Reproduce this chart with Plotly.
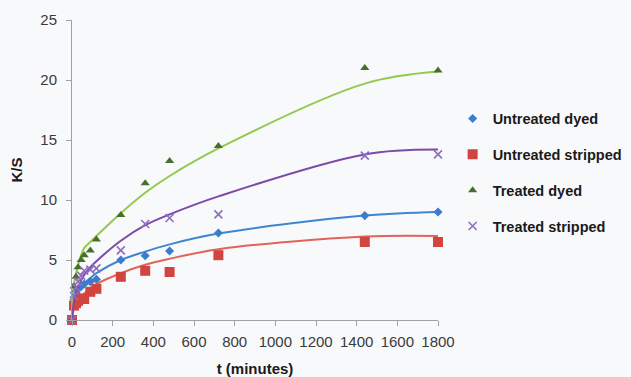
import plotly.graph_objects as go

# Sampling times (minutes)
t = [0, 10, 20, 30, 45, 60, 90, 120, 240, 360, 480, 720, 1440, 1800]

# Measured K/S values
untreated_dyed = [0, 1.9, 2.3, 2.6, 2.8, 3.0, 3.2, 3.4, 5.0, 5.35, 5.75, 7.25, 8.7, 9.0]
untreated_stripped = [0, 1.2, 1.4, 1.6, 1.8, 1.75, 2.35, 2.6, 3.6, 4.1, 4.0, 5.4, 6.5, 6.5]
treated_dyed = [0, 2.8, 3.6, 4.4, 5.0, 5.4, 5.8, 6.7, 8.75, 11.4, 13.25, 14.5, 21.0, 20.8]
treated_stripped = [0, 2.0, 2.7, 3.2, 3.7, 4.1, 4.2, 4.3, 5.8, 8.0, 8.5, 8.8, 13.7, 13.8]

# Fitted trend values at the same times
fit_untreated_dyed = [0, 1.7, 2.1, 2.4, 2.75, 3.05, 3.5, 3.9, 5.0, 5.7, 6.3, 7.2, 8.7, 9.0]
fit_untreated_stripped = [0, 1.0, 1.35, 1.6, 1.95, 2.2, 2.65, 3.0, 3.9, 4.6, 5.1, 5.9, 6.95, 7.0]
fit_treated_dyed = [0, 3.0, 3.9, 4.6, 5.4, 6.0, 6.5, 7.0, 8.9, 10.6, 12.0, 14.3, 19.7, 20.7]
fit_treated_stripped = [0, 1.6, 2.2, 2.7, 3.3, 3.75, 4.4, 4.9, 6.6, 7.9, 8.8, 10.3, 13.8, 14.2]

series = [
    ("Untreated dyed", untreated_dyed, fit_untreated_dyed, "#3b7ccc", "#3f86cf", "diamond", 7),
    ("Untreated stripped", untreated_stripped, fit_untreated_stripped, "#d2443f", "#e0645c", "square", 10),
    ("Treated dyed", treated_dyed, fit_treated_dyed, "#46702a", "#94c84e", "triangle-up", 8),
    ("Treated stripped", treated_stripped, fit_treated_stripped, "#8f6cc0", "#7d4aa8", "x-thin-open", 8),
]

fig = go.Figure()

for name, vals, fit, mcol, lcol, sym, size in series:
    # smooth trend curve
    fig.add_trace(go.Scatter(
        x=t, y=fit, mode="lines", line=dict(color=lcol, width=2, shape="spline", smoothing=1.0),
        showlegend=False, hoverinfo="skip", cliponaxis=False,
    ))
    # measured points
    fig.add_trace(go.Scatter(
        x=t, y=vals, mode="markers", name=name, legendgroup=name,
        marker=dict(symbol=sym, size=size, color=mcol,
                    line=dict(color=mcol, width=1.6 if sym.startswith("x") else 0)),
        cliponaxis=False,
    ))

fig.update_layout(
    width=631, height=377,
    margin=dict(l=72, r=193, t=20, b=57, autoexpand=False),
    paper_bgcolor="#f8f9fb",
    plot_bgcolor="#f8f9fb",
    font=dict(family="Liberation Sans, Arial, sans-serif", size=15, color="#3a3a3a"),
    legend=dict(
        x=1.04, y=0.725, xanchor="left", yanchor="top",
        bgcolor="rgba(0,0,0,0)", tracegroupgap=14,
        font=dict(family="Liberation Sans, Arial, sans-serif", size=14.5, color="#1a1a1a", weight="bold"),
        itemwidth=30,
    ),
    xaxis=dict(
        range=[0, 1800], tickvals=list(range(0, 1801, 200)),
        showline=True, linecolor="#a0a0a0", linewidth=1,
        ticks="outside", ticklen=5, tickcolor="#a0a0a0",
        ticklabelstandoff=3,
        showgrid=False, zeroline=False,
        title=dict(text="<b>t (minutes)</b>", standoff=14,
                   font=dict(size=15, color="#1a1a1a")),
        tickfont=dict(size=15, color="#3a3a3a"),
    ),
    yaxis=dict(
        range=[0, 25], tickvals=[0, 5, 10, 15, 20, 25],
        showline=True, linecolor="#a0a0a0", linewidth=1,
        ticks="outside", ticklen=5, tickcolor="#a0a0a0",
        ticklabelstandoff=6,
        showgrid=False, zeroline=False,
        title=dict(text="<b>K/S</b>", standoff=14,
                   font=dict(size=15, color="#1a1a1a")),
        tickfont=dict(size=15, color="#3a3a3a"),
    ),
)

fig.write_html("out.html")
